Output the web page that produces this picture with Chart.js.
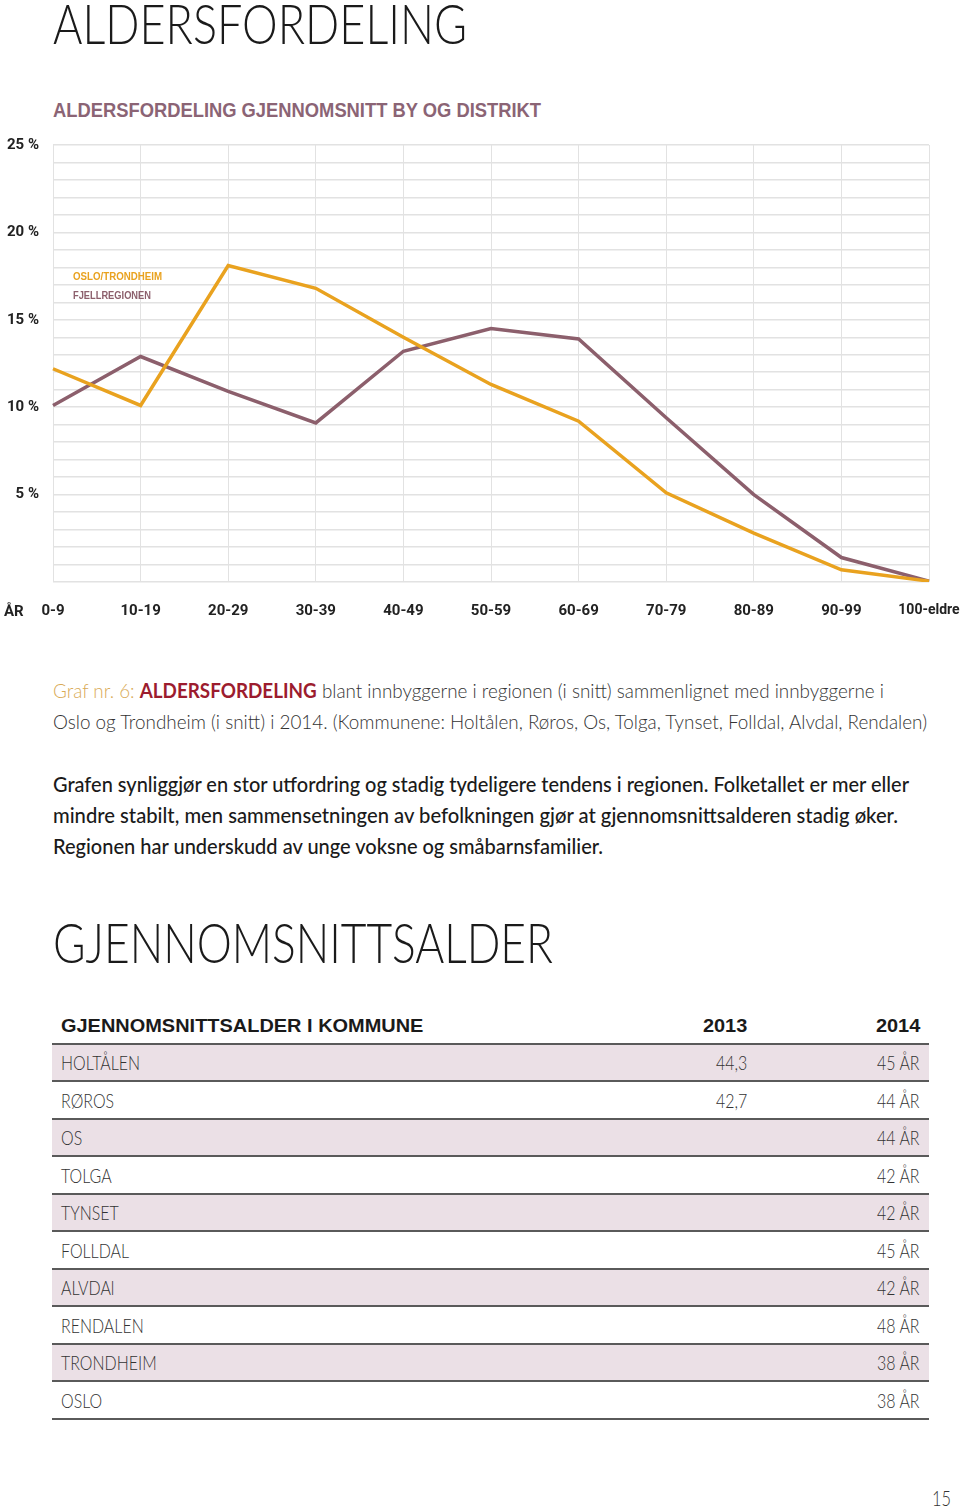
<!DOCTYPE html>
<html lang="no">
<head>
<meta charset="utf-8">
<script src="https://cdn.jsdelivr.net/npm/chart.js@4.4.1/dist/chart.umd.min.js"></script>
<style>
  html, body { margin: 0; padding: 0; background: #fff; }
  body { width: 960px; height: 1508px; position: relative; overflow: hidden; color: #222; font-family: Lato, sans-serif; }
  .abs { position: absolute; white-space: nowrap; line-height: 1; }
  .fit { display: inline-block; transform-origin: 0 50%; }
  .big { font-family: Lato, sans-serif; font-weight: 300; font-size: 56px; color: #1a1a1a; }
  .subtitle { font-family: 'Liberation Sans Narrow', sans-serif; font-weight: 700; font-size: 20px; color: #8b6475; }
  .legend { font-family: 'Liberation Sans Narrow', sans-serif; font-weight: 700; font-size: 11px; }
  .caption { font-family: Lato, sans-serif; font-weight: 300; font-size: 20px; color: #333; }
  .caption .lbl { color: #d9aa55; }
  .caption .em { color: #9c1c2e; font-weight: 700; }
  .body { font-family: Lato, sans-serif; font-weight: 500; font-size: 21px; color: #1a1a1a; }
  #chartBox { position: absolute; left: 0; top: 130px; width: 960px; height: 500px; }
  #tbl { position: absolute; left: 52px; top: 1007px; width: 877px; }
  .row { position: relative; height: 35.5px; border-bottom: 2px solid #5a5a5a; }
  .row.shade { background: #ebe0e6; }
  .row span { position: absolute; top: 50%; line-height: 1; display: inline-block; }
  .head span { font-family: 'Liberation Sans Narrow', sans-serif; font-weight: 700; font-size: 19px; color: #1a1a1a; }
  .cell span { font-family: Lato, sans-serif; font-weight: 300; font-size: 19px; color: #333; }
  .c0 { left: 9px; transform: translateY(-50%) scaleX(0.84); transform-origin: 0 50%; }
  .c1 { right: 182px; transform: translateY(-50%) scaleX(0.84); transform-origin: 100% 50%; }
  .c2 { right: 9px; transform: translateY(-50%) scaleX(0.84); transform-origin: 100% 50%; }
  .head .c0, .head .c1, .head .c2 { transform: translateY(-50%) scaleX(1.05); }
</style>
</head>
<body>

<div class="abs big" style="left:53px; top:-5px"><span class="fit" data-w="414">ALDERSFORDELING</span></div>
<div class="abs subtitle" style="left:53px; top:100px"><span class="fit" data-w="488">ALDERSFORDELING GJENNOMSNITT BY OG DISTRIKT</span></div>

<div id="chartBox"><canvas id="chart" width="960" height="500"></canvas></div>

<div class="abs legend" style="left:73px; top:271px; color:#e9a21f"><span class="fit" data-w="89">OSLO/TRONDHEIM</span></div>
<div class="abs legend" style="left:73px; top:290px; color:#8c5f6c"><span class="fit" data-w="78">FJELLREGIONEN</span></div>
<div class="abs" style="left:4px; top:604px; font-family:Roboto, sans-serif; font-weight:700; font-size:15px; color:#222">ÅR</div>

<div class="abs caption" style="left:53px; top:680px"><span class="fit" data-w="831"><span class="lbl">Graf nr. 6: </span><span class="em">ALDERSFORDELING</span> blant innbyggerne i regionen (i snitt) sammenlignet med innbyggerne i</span></div>
<div class="abs caption" style="left:53px; top:711px"><span class="fit" data-w="874">Oslo og Trondheim (i snitt) i 2014. (Kommunene: Holtålen, Røros, Os, Tolga, Tynset, Folldal, Alvdal, Rendalen)</span></div>

<div class="abs body" style="left:53px; top:773px"><span class="fit" data-w="856">Grafen synliggjør en stor utfordring og stadig tydeligere tendens i regionen. Folketallet er mer eller</span></div>
<div class="abs body" style="left:53px; top:804px"><span class="fit" data-w="845">mindre stabilt, men sammensetningen av befolkningen gjør at gjennomsnittsalderen stadig øker.</span></div>
<div class="abs body" style="left:53px; top:835px"><span class="fit" data-w="550">Regionen har underskudd av unge voksne og småbarnsfamilier.</span></div>

<div class="abs big" style="left:53px; top:914px"><span class="fit" data-w="500">GJENNOMSNITTSALDER</span></div>

<div id="tbl"></div>

<div class="abs" style="left:932px; top:1487px; font-family:Lato, sans-serif; font-weight:300; font-size:22px; color:#333"><span class="fit" data-w="19">15</span></div>

<script>
// Aldersfordeling, andel av befolkningen (%) per aldersgruppe
const ageGroups = ['0-9', '10-19', '20-29', '30-39', '40-49', '50-59', '60-69', '70-79', '80-89', '90-99', '100-eldre']
const osloTrondheim = [12.2, 10.1, 18.1, 16.8, 14.0, 11.3, 9.2, 5.1, 2.8, 0.7, 0.05]
const fjellregionen = [10.1, 12.9, 10.9, 9.1, 13.2, 14.5, 13.9, 9.4, 5.0, 1.4, 0.05]
const yMax = 25
const yLabelStep = 5

// Gjennomsnittsalder i kommune
const tableHead = ['GJENNOMSNITTSALDER I KOMMUNE', '2013', '2014']
const kommuner = ['HOLTÅLEN', 'RØROS', 'OS', 'TOLGA', 'TYNSET', 'FOLLDAL', 'ALVDAl', 'RENDALEN', 'TRONDHEIM', 'OSLO']
const snitt2013 = ['44,3', '42,7', '', '', '', '', '', '', '', '']
const snitt2014 = ['45 ÅR', '44 ÅR', '44 ÅR', '42 ÅR', '42 ÅR', '45 ÅR', '42 ÅR', '48 ÅR', '38 ÅR', '38 ÅR']

const ORANGE = '#e9a21f'
const PURPLE = '#8c5f6c'
const GRID = '#e2e2e2'
const tickFont = { family: 'Roboto', weight: 'bold', size: 15 }
// last label sits at the page edge, so it gets a touch smaller
const xTickFont = ctx => (ctx.index === ageGroups.length - 1 ? { ...tickFont, size: 14 } : tickFont)

// keep the plot area exactly where the layout padding puts it
const noEdgePadding = s => {
  s.paddingTop = 0; s.paddingBottom = 0
  s.paddingLeft = 0; s.paddingRight = 0
}

new Chart(document.getElementById('chart'), {
  type: 'line',
  data: {
    labels: ageGroups,
    datasets: [
      { label: 'OSLO/TRONDHEIM', data: osloTrondheim, borderColor: ORANGE, borderWidth: 3.5, pointRadius: 0, tension: 0, fill: false },
      { label: 'FJELLREGIONEN', data: fjellregionen, borderColor: PURPLE, borderWidth: 3.5, pointRadius: 0, tension: 0, fill: false },
    ],
  },
  options: {
    responsive: false,
    animation: false,
    devicePixelRatio: 1,
    layout: { padding: { top: 15, right: 31, left: 0, bottom: 0 } },
    plugins: { legend: { display: false }, tooltip: { enabled: false } },
    scales: {
      x: {
        offset: false,
        grid: { color: GRID, lineWidth: 1, drawTicks: false },
        border: { display: false },
        ticks: { font: xTickFont, color: '#222', padding: 20, maxRotation: 0, autoSkip: false },
        afterFit: s => { s.height = 48; noEdgePadding(s) },
      },
      y: {
        min: 0, max: yMax,
        grid: { color: GRID, lineWidth: 1.5, drawTicks: false },
        border: { display: false },
        ticks: {
          stepSize: 1,
          maxTicksLimit: 40,
          autoSkip: false,
          font: tickFont,
          color: '#222',
          padding: 14,
          callback: v => (v > 0 && v % yLabelStep === 0 ? `${v} %` : ''),
        },
        afterFit: s => { s.width = 53; noEdgePadding(s) },
      },
    },
  },
})

// table
const tbl = document.getElementById('tbl')
const addRow = (cells, cls) => {
  const row = document.createElement('div')
  row.className = 'row ' + cls
  cells.forEach((txt, i) => {
    const sp = document.createElement('span')
    sp.className = 'c' + i
    sp.textContent = txt
    row.appendChild(sp)
  })
  tbl.appendChild(row)
}
addRow(tableHead, 'head')
kommuner.forEach((k, i) => addRow([k, snitt2013[i], snitt2014[i]], 'cell' + (i % 2 === 0 ? ' shade' : '')))

// squeeze text lines to the measured widths
const fitAll = () => document.querySelectorAll('.fit').forEach(el => {
  el.style.transform = 'none'
  const w = el.getBoundingClientRect().width
  el.style.transform = `scaleX(${el.dataset.w / w})`
})
fitAll()
document.fonts && document.fonts.ready.then(fitAll)
</script>
</body>
</html>
